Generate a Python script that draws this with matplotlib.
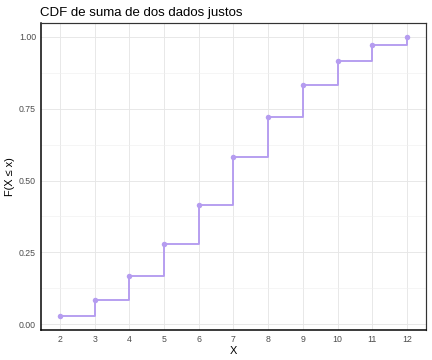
import matplotlib
matplotlib.use("Agg")
import matplotlib.pyplot as plt
import numpy as np

x_vals = [2, 3, 4, 5, 6, 7, 8, 9, 10, 11, 12]
counts = [1, 2, 3, 4, 5, 6, 5, 4, 3, 2, 1]
cdf = list(np.cumsum(counts) / 36.0)
y_ticks = [0.00, 0.25, 0.50, 0.75, 1.00]
y_labels = ["0.00", "0.25", "0.50", "0.75", "1.00"]

plt.rcParams['font.family'] = ['Liberation Sans', 'DejaVu Sans']
fig = plt.figure(figsize=(6, 5), dpi=72)
ax = fig.add_axes([0.095, 0.083, 0.891, 0.853])
col = '#b59cf0'
ax.step(x_vals, cdf, where='post', color=col, lw=1.9, zorder=3)
ax.scatter(x_vals, cdf, color=col, s=30, zorder=4, linewidths=0)
ax.set_xlim(1.45, 12.55)
ax.set_ylim(-0.0208, 1.0486)
ax.set_xticks(x_vals)
ax.set_yticks(y_ticks)
ax.set_yticklabels(y_labels)
ax.set_yticks([0.125, 0.375, 0.625, 0.875], minor=True)
ax.grid(True, which='major', color='#e6e6e6', lw=0.9, zorder=0)
ax.grid(True, which='minor', axis='y', color='#f0f0f0', lw=0.6, zorder=0)
ax.set_axisbelow(True)
for s in ax.spines.values():
    s.set_color('#333333')
    s.set_linewidth(1.2)
ax.spines['left'].set_color('black')
ax.spines['bottom'].set_color('black')
ax.spines['left'].set_linewidth(1.5)
ax.spines['bottom'].set_linewidth(1.5)
ax.tick_params(axis='both', which='both', length=0, labelsize=8.8, colors='#4d4d4d', pad=5)
ax.tick_params(axis='y', which='minor', length=0)
ax.set_xlabel('X', fontsize=11, labelpad=2)
ax.set_ylabel('F(X ≤ x)', fontsize=11, labelpad=4)
ax.set_title('CDF de suma de dos dados justos', fontsize=13.2, loc='left', x=-0.003, pad=7)
fig.savefig('out.png', dpi=72)
